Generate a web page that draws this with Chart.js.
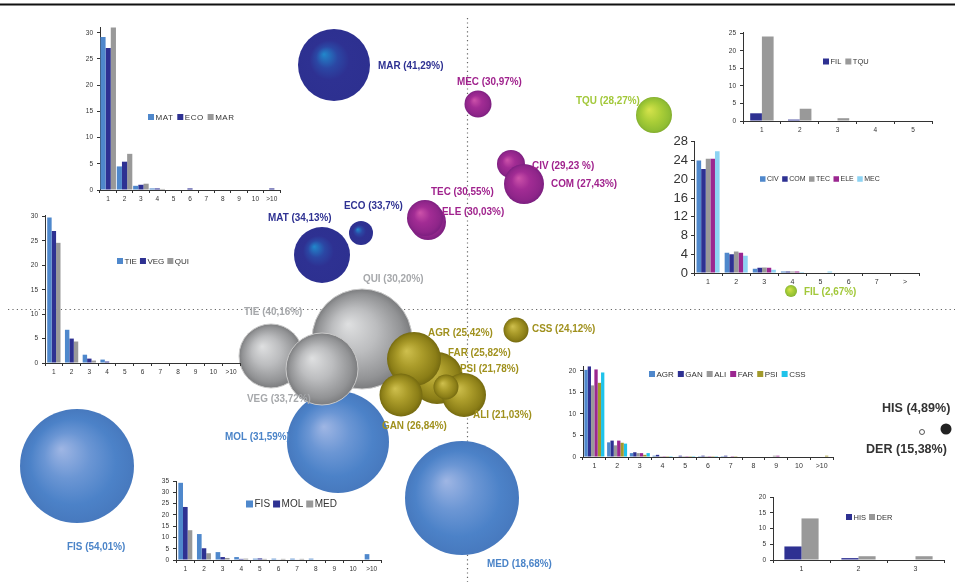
<!DOCTYPE html>
<html><head><meta charset="utf-8">
<script src="https://cdn.jsdelivr.net/npm/chart.js@4"></script>
<style>
html,body{margin:0;padding:0;background:#fff;overflow:hidden}
#wrap{position:relative;width:955px;height:582px}
canvas{position:absolute}
</style></head>
<body><div id="wrap"><canvas id="main" width="955" height="582" style="left:0;top:0"></canvas></div>
<script>
// ================= DATA =================
// Bubbles (map coordinates, bubble size, share label)
const bubbleNames = ['MAR','ECO','MAT','MEC','CIV','ELE','TEC','COM','TQU','FIL','QUI','TIE','VEG','FAR','AGR','ALI','GAN','PSI','CSS','MOL','MED','FIS','HIS','DER'];
const bubbleGroup = ['navy','navy','navy','magenta','magenta','magenta','magenta','magenta','green','green','gray','gray','gray','olive','olive','olive','olive','olive','olive','light','light','light','dark','dark'];
const bubbleX     = [334,361,322,478,511,428,425,524,654,791,362,271,322,437,414,464,401,446,516,338,462,77,922,946];
const bubbleY     = [65,233,255,104,164,222,218,184,115,291,339,356,369,378,359,395,395,387,330,442,498,466,432,429];
const bubbleSize  = [36,12,28,13.5,14,18,18,20,18,6,50,32,36,26,27,22,21.5,12.5,12.5,51,57,57,2.5,5.5];
const bubblePct   = ['41,29','33,7','34,13','30,97','29,23 ','30,03','30,55','27,43','28,27','2,67','30,20','40,16','33,72','25,82','25,42','21,03','26,84','21,78','24,12','31,59','18,68','54,01','4,89','15,38'];

// Inset bar charts
const catsA   = ['1','2','3','4','5','6','7','8','9','10','>10'];
const catsFil = ['1','2','3','4','5'];
const catsEng = ['1','2','3','4','5','6','7','>'];
const catsHis = ['1','2','3'];

const barMAT = [29.2,4.5,0.8,0.3,0,0,0,0,0,0,0];
const barECO = [27.1,5.4,1.0,0.3,0,0.3,0,0,0,0,0.3];
const barMAR = [31.0,6.9,1.2,0.2,0,0,0,0,0,0,0];

const barTIE = [29.8,6.8,1.7,0.7,0.1,0.1,0.1,0.1,0.1,0,0.1];
const barVEG = [27.0,5.0,0.9,0.3,0,0,0,0,0,0,0];
const barQUI = [24.6,4.4,0.5,0.1,0,0,0,0,0,0,0];

const barFIS = [34.2,11.5,3.5,1.3,0.6,0.6,0.6,0.6,0,0,2.6];
const barMOL = [23.5,5.2,1.3,0.5,0.7,0.2,0.2,0,0,0,0];
const barMED = [13.2,3.0,0.9,0.6,0.5,0.5,0.5,0,0,0,0];

const barFIL = [2.2,0.4,0,0,0];
const barTQU = [24.1,3.5,0.8,0,0];

const barCIV = [24.0,4.3,0.9,0.3,0,0,0,0];
const barCOM = [22.2,4.0,1.1,0.3,0,0,0,0];
const barTEC = [24.4,4.6,1.2,0.3,0,0,0,0];
const barELE = [24.4,4.3,1.1,0.3,0,0,0,0];
const barMEC = [26.0,3.7,0.7,0.2,0.3,0,0,0];

const barAGR = [20.2,3.4,0.9,0.3,0.1,0.2,0.2,0,0,0,0];
const barGAN = [21.0,3.8,1.1,0.5,0.3,0.3,0.3,0,0,0,0];
const barALI = [16.6,2.7,0.9,0.2,0.2,0.2,0,0,0.3,0,0];
const barFAR = [20.3,3.8,0.9,0.2,0.2,0.2,0.2,0,0.3,0,0];
const barPSI = [17.2,3.3,0.5,0.2,0.2,0.2,0.2,0,0,0,0.3];
const barCSS = [19.6,3.1,0.9,0.2,0.2,0.2,0,0,0,0,0];

const barHIS = [4.3,0.6,0];
const barDER = [13.2,1.2,1.2];

// ================= STYLE / LAYOUT =================
const FONT = "'Liberation Sans', Arial, Helvetica, sans-serif";
const groupStyle = {
  navy:    {stops:[[0,'#2188cc'],[0.3,'#2b47a4'],[0.55,'#2e3192'],[1,'#2d3090']], label:'#2e3192'},
  magenta: {stops:[[0,'#cd52aa'],[0.45,'#a22c94'],[0.85,'#8e2589'],[1,'#7c1f80']], label:'#a0228d'},
  green:   {stops:[[0,'#d6e34c'],[0.55,'#a9cd37'],[0.9,'#90bd33'],[1,'#82ac2c']], label:'#a2c83a'},
  gray:    {stops:[[0,'#dfe0e1'],[0.45,'#bcbdbf'],[0.85,'#929395'],[1,'#7b7c7e']], label:'#a6a8ab', border:'#c9c9c9'},
  olive:   {stops:[[0,'#cfc04e'],[0.45,'#ab9c2a'],[0.85,'#8b7e17'],[1,'#756a10']], label:'#a0911e'},
  light:   {stops:[[0,'#9fb6e4'],[0.4,'#6b96d4'],[0.75,'#4c82c8'],[1,'#4779be']], label:'#4b84c8'},
  dark:    {label:'#333333'}
};
// dataset draw order: first = on top
const groupOrder = ['dark','olive','gray','light','magenta','navy','green'];
const labelOffsets = {
  MAR:[44,1], ECO:[-17,-27], MAT:[-54,-37], MEC:[-21,-22], CIV:[21,2], ELE:[14,-10], TEC:[6,-26], COM:[27,0],
  TQU:[-78,-14], FIL:[13,1], QUI:[1,-60], TIE:[-27,-44], VEG:[-75,30], FAR:[11,-25], AGR:[14,-26],
  ALI:[9,20], GAN:[-19,31], PSI:[14,-18], CSS:[16,-1], MOL:[-113,-5], MED:[25,66], FIS:[-10,81],
  HIS:[-40,-24], DER:[-80,20]
};

const mainDatasets = groupOrder.map(g => {
  const idx = bubbleNames.map((n,i)=>i).filter(i => bubbleGroup[i] === g);
  const st = groupStyle[g];
  return {
    label: g,
    data: idx.map(i => ({x: bubbleX[i], y: bubbleY[i], r: bubbleSize[i], name: bubbleNames[i], pct: bubblePct[i]})),
    backgroundColor: (c) => {
      if (g === 'dark') return c.raw && c.raw.name === 'HIS' ? '#ffffff' : '#222222';
      const ch = c.chart, raw = c.raw;
      const solid = st.stops[2][1];
      if (!raw || !ch.scales || !ch.scales.x || !ch.scales.y) return solid;
      const x = ch.scales.x.getPixelForValue(raw.x), y = ch.scales.y.getPixelForValue(raw.y);
      if (!Number.isFinite(x) || !Number.isFinite(y) || !Number.isFinite(raw.r)) return solid;
      const gr = ch.ctx.createRadialGradient(x - 0.28*raw.r, y - 0.3*raw.r, 0, x, y, raw.r);
      st.stops.forEach(([o,col]) => gr.addColorStop(o,col));
      return gr;
    },
    borderColor: g === 'dark' ? '#444' : (st.border || 'rgba(0,0,0,0)'),
    borderWidth: (c) => g === 'dark' ? (c.raw && c.raw.name === 'HIS' ? 0.9 : 0) : (st.border ? 1 : 0),
    clip: false
  };
});

const mapPlugin = {
  id: 'mapDeco',
  beforeDatasetsDraw(chart) {
    const ctx = chart.ctx;
    ctx.save();
    ctx.fillStyle = '#111';
    ctx.fillRect(0, 3.5, 955, 2);
    ctx.strokeStyle = '#666';
    ctx.lineWidth = 1.2;
    ctx.setLineDash([1.2, 3.2]);
    ctx.beginPath();
    ctx.moveTo(467.5, 18); ctx.lineTo(467.5, 582);
    ctx.moveTo(8, 309.5); ctx.lineTo(955, 309.5);
    ctx.stroke();
    ctx.restore();
  },
  afterDatasetsDraw(chart) {
    const ctx = chart.ctx;
    chart.data.datasets.forEach((ds, di) => {
      const g = ds.label;
      const col = groupStyle[g].label;
      ds.data.forEach(p => {
        const off = labelOffsets[p.name] || [0,0];
        const x = chart.scales.x.getPixelForValue(p.x) + off[0];
        const y = chart.scales.y.getPixelForValue(p.y) + off[1];
        ctx.save();
        ctx.translate(x, y);
        const big = g === 'dark';
        ctx.scale(big ? 0.93 : 0.9, 1);
        ctx.font = 'bold ' + (big ? 13.5 : 11) + 'px ' + FONT;
        ctx.fillStyle = col;
        ctx.textAlign = 'left';
        ctx.textBaseline = 'middle';
        ctx.fillText(p.name + ' (' + p.pct + '%)', 0, 0);
        ctx.restore();
      });
    });
  }
};

new Chart(document.getElementById('main'), {
  type: 'bubble',
  data: {datasets: mainDatasets},
  options: {
    responsive: false, devicePixelRatio: 1, animation: false, events: [],
    layout: {padding: 0, autoPadding: false},
    plugins: {legend: {display: false}, tooltip: {enabled: false}},
    scales: {
      x: {type: 'linear', display: false, min: 0, max: 955},
      y: {type: 'linear', display: false, min: 0, max: 582, reverse: true}
    }
  },
  plugins: [mapPlugin]
});

// ---------- inset bar charts ----------
const C = {lb:'#4f88cc', nv:'#2e3192', gr:'#999999', mg:'#9b2790', cy:'#8dd3f3', ol:'#a29a2c', cs:'#1fc3ea'};
const legendPlugin = {
  id: 'insetLegend',
  afterDraw(chart, args, o) {
    const ctx = chart.ctx;
    ctx.save();
    ctx.font = o.font;
    if (o.ls) ctx.letterSpacing = o.ls;
    ctx.textBaseline = 'middle';
    let x = o.x;
    chart.data.datasets.forEach(ds => {
      ctx.fillStyle = ds.backgroundColor;
      ctx.fillRect(x, o.y - o.box/2, o.box, o.box);
      x += o.box + 1.5;
      ctx.fillStyle = '#333';
      ctx.fillText(ds.label, x, o.y + 0.5);
      x += ctx.measureText(ds.label).width + o.gap;
    });
    ctx.restore();
  }
};
const wrap = document.getElementById('wrap');
function inset(a, cfg) {
  const padT = 8, padR = 4;
  const cv = document.createElement('canvas');
  const W = Math.round(a.r - a.l + cfg.yW + padR);
  const H = Math.round(a.b - a.t + padT + cfg.xH);
  const left = a.l - cfg.yW, top = a.t - padT;
  cv.width = W; cv.height = H;
  cv.style.left = left + 'px'; cv.style.top = top + 'px';
  wrap.appendChild(cv);
  const step = cfg.step;
  new Chart(cv, {
    type: 'bar',
    data: {labels: cfg.labels, datasets: cfg.series.map(s => ({label: s[0], data: s[1], backgroundColor: s[2],
      categoryPercentage: cfg.cat, barPercentage: 1}))},
    options: {
      responsive: false, devicePixelRatio: 1, animation: false, events: [],
      layout: {padding: {top: padT, right: padR, left: 0, bottom: 0}},
      plugins: {legend: {display: false}, tooltip: {enabled: false},
        insetLegend: {x: cfg.leg.x - left, y: cfg.leg.y - top, font: cfg.leg.font, box: cfg.leg.box, gap: cfg.leg.gap, ls: cfg.leg.ls}},
      scales: {
        x: {grid: {display: true, drawOnChartArea: false, offset: true, tickLength: 3, color: '#333', lineWidth: 1},
            border: {display: true, color: '#333', width: 1},
            ticks: {font: {family: FONT, size: cfg.xFont}, color: '#333', padding: 2, maxRotation: 0, autoSkip: false},
            afterFit: s => { s.height = cfg.xH; }},
        y: {min: 0, max: cfg.max,
            grid: {display: true, drawOnChartArea: false, tickLength: 3, color: '#333', lineWidth: 1},
            border: {display: true, color: '#333', width: 1},
            ticks: {stepSize: step, autoSkip: false, font: {family: FONT, size: cfg.yFont}, color: '#333', padding: cfg.yPad || 4},
            afterBuildTicks: s => {
              const t = [];
              for (let v = 0; v <= cfg.max + 1e-9; v += step) t.push({value: v});
              s.ticks = t;
            },
            afterFit: s => { s.width = cfg.yW; }}
      }
    },
    plugins: [legendPlugin]
  });
}

inset({l:100, r:280, t:27, b:190}, {labels: catsA, max: 31.1, step: 5, yW: 22, xH: 16, xFont: 6.5, yFont: 6.5, cat: 0.95,
  series: [['MAT', barMAT, C.lb], ['ECO', barECO, C.nv], ['MAR', barMAR, C.gr]],
  leg: {x: 148, y: 117, font: '8px ' + FONT, box: 6, gap: 4, ls: '0.5px'}});

inset({l:45, r:240, t:215, b:363}, {labels: catsA, max: 30.3, step: 5, yW: 22, xH: 18, xFont: 6.5, yFont: 6.5, cat: 0.75,
  series: [['TIE', barTIE, C.lb], ['VEG', barVEG, C.nv], ['QUI', barQUI, C.gr]],
  leg: {x: 117, y: 261, font: '8px ' + FONT, box: 6, gap: 3}});

inset({l:176, r:381, t:481, b:560}, {labels: catsA, max: 35, step: 5, yW: 22, xH: 16, xFont: 6.5, yFont: 6.5, cat: 0.75,
  series: [['FIS', barFIS, C.lb], ['MOL', barMOL, C.nv], ['MED', barMED, C.gr]],
  leg: {x: 246, y: 504, font: '10px ' + FONT, box: 7, gap: 3}});

inset({l:743, r:932, t:31.5, b:120.7}, {labels: catsFil, max: 25.4, step: 5, yW: 22, xH: 16, xFont: 6.5, yFont: 6.5, cat: 0.62,
  series: [['FIL', barFIL, C.nv], ['TQU', barTQU, C.gr]],
  leg: {x: 823, y: 61, font: '7.5px ' + FONT, box: 6, gap: 4}});

inset({l:694, r:919, t:139, b:273}, {labels: catsEng, max: 28, step: 4, yW: 36, xH: 16, xFont: 7, yFont: 13, yPad: 3, cat: 0.82,
  series: [['CIV', barCIV, C.lb], ['COM', barCOM, C.nv], ['TEC', barTEC, C.gr], ['ELE', barELE, C.mg], ['MEC', barMEC, C.cy]],
  leg: {x: 760, y: 179, font: '7px ' + FONT, box: 5.5, gap: 3.5}});

inset({l:583, r:833, t:366, b:457}, {labels: catsA, max: 21.1, step: 5, yW: 22, xH: 16, xFont: 7, yFont: 6.5, cat: 0.88,
  series: [['AGR', barAGR, C.lb], ['GAN', barGAN, C.nv], ['ALI', barALI, C.gr], ['FAR', barFAR, C.mg], ['PSI', barPSI, C.ol], ['CSS', barCSS, C.cs]],
  leg: {x: 649, y: 374, font: '8px ' + FONT, box: 6, gap: 4}});

inset({l:773, r:944, t:497, b:560}, {labels: catsHis, max: 20, step: 5, yW: 22, xH: 16, xFont: 7, yFont: 6.5, cat: 0.6,
  series: [['HIS', barHIS, C.nv], ['DER', barDER, C.gr]],
  leg: {x: 846, y: 517, font: '7.5px ' + FONT, box: 6, gap: 3}});
</script>
</body></html>
